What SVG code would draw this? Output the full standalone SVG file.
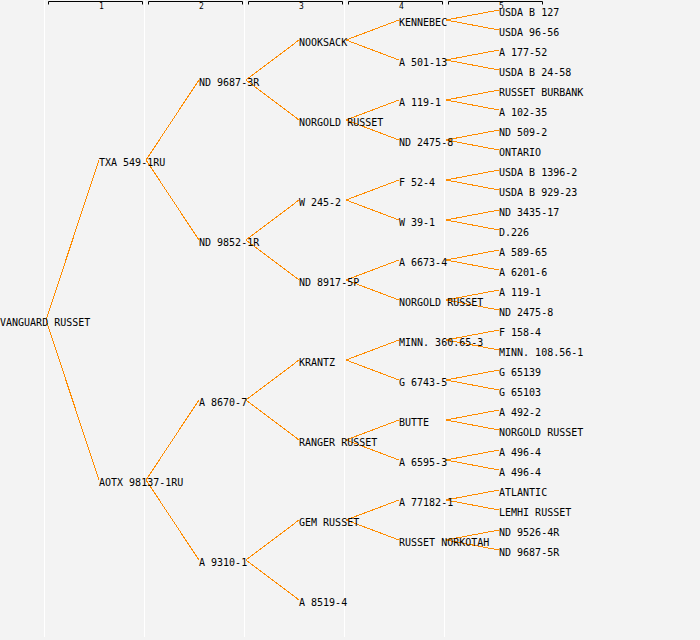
<svg xmlns="http://www.w3.org/2000/svg" width="700" height="640" viewBox="0 0 700 640">
<style>
.bg{fill:#f3f3f3}
.sep{stroke:#ffffff;stroke-width:1}
.br{fill:none;stroke:#000000;stroke-width:1}
.hd{font-family:"DejaVu Sans Mono","Liberation Mono",monospace;font-size:8px;fill:#000;text-anchor:middle}
.lb{font-family:"DejaVu Sans Mono","Liberation Mono",monospace;font-size:10px;fill:#000}
.e{stroke:#ff8c00;stroke-width:1;fill:none;shape-rendering:crispEdges}
</style>
<rect class="bg" x="0" y="0" width="700" height="640"/>
<g id="columns">
<line class="sep" x1="44.5" y1="0" x2="44.5" y2="637"/>
<line class="sep" x1="144.5" y1="0" x2="144.5" y2="637"/>
<line class="sep" x1="244.5" y1="0" x2="244.5" y2="637"/>
<line class="sep" x1="344.5" y1="0" x2="344.5" y2="637"/>
<line class="sep" x1="444.5" y1="0" x2="444.5" y2="637"/>
</g>
<g id="header">
<path class="br" d="M48.5,4.5V1.5H142.5V4.5"/>
<path class="br" d="M148.5,4.5V1.5H242.5V4.5"/>
<path class="br" d="M248.5,4.5V1.5H342.5V4.5"/>
<path class="br" d="M348.5,4.5V1.5H442.5V4.5"/>
<path class="br" d="M448.5,4.5V1.5H542.5V4.5"/>
<text class="hd" x="101.5" y="9">1</text>
<text class="hd" x="201.5" y="9">2</text>
<text class="hd" x="301.5" y="9">3</text>
<text class="hd" x="401.5" y="9">4</text>
<text class="hd" x="501.5" y="9">5</text>
</g>
<g id="connectors">
<path class="e" d="M46,320L99,160M46,320L99,480"/>
<path class="e" d="M146,160L199,80M146,160L199,240M146,480L199,400M146,480L199,560"/>
<path class="e" d="M246,80L299,40M246,80L299,120M246,240L299,200M246,240L299,280M246,400L299,360M246,400L299,440M246,560L299,520M246,560L299,600"/>
<path class="e" d="M346,40L399,20M346,40L399,60M346,120L399,100M346,120L399,140M346,200L399,180M346,200L399,220M346,280L399,260M346,280L399,300M346,360L399,340M346,360L399,380M346,440L399,420M346,440L399,460M346,520L399,500M346,520L399,540"/>
<path class="e" d="M446,20L499,10M446,20L499,30M446,60L499,50M446,60L499,70M446,100L499,90M446,100L499,110M446,140L499,130M446,140L499,150M446,180L499,170M446,180L499,190M446,220L499,210M446,220L499,230M446,260L499,250M446,260L499,270M446,300L499,290M446,300L499,310M446,340L499,330M446,340L499,350M446,380L499,370M446,380L499,390M446,420L499,410M446,420L499,430M446,460L499,450M446,460L499,470M446,500L499,490M446,500L499,510M446,540L499,530M446,540L499,550"/>
</g>
<g id="n0"><text class="lb" x="0" y="326">VANGUARD RUSSET</text></g>
<g id="n1"><text class="lb" x="99" y="166">TXA 549-1RU</text></g>
<g id="n2"><text class="lb" x="99" y="486">AOTX 98137-1RU</text></g>
<g id="n3"><text class="lb" x="199" y="86">ND 9687-3R</text></g>
<g id="n4"><text class="lb" x="199" y="246">ND 9852-1R</text></g>
<g id="n5"><text class="lb" x="199" y="406">A 8670-7</text></g>
<g id="n6"><text class="lb" x="199" y="566">A 9310-1</text></g>
<g id="n7"><text class="lb" x="299" y="46">NOOKSACK</text></g>
<g id="n8"><text class="lb" x="299" y="126">NORGOLD RUSSET</text></g>
<g id="n9"><text class="lb" x="299" y="206">W 245-2</text></g>
<g id="n10"><text class="lb" x="299" y="286">ND 8917-5P</text></g>
<g id="n11"><text class="lb" x="299" y="366">KRANTZ</text></g>
<g id="n12"><text class="lb" x="299" y="446">RANGER RUSSET</text></g>
<g id="n13"><text class="lb" x="299" y="526">GEM RUSSET</text></g>
<g id="n14"><text class="lb" x="299" y="606">A 8519-4</text></g>
<g id="n15"><text class="lb" x="399" y="26">KENNEBEC</text></g>
<g id="n16"><text class="lb" x="399" y="66">A 501-13</text></g>
<g id="n17"><text class="lb" x="399" y="106">A 119-1</text></g>
<g id="n18"><text class="lb" x="399" y="146">ND 2475-8</text></g>
<g id="n19"><text class="lb" x="399" y="186">F 52-4</text></g>
<g id="n20"><text class="lb" x="399" y="226">W 39-1</text></g>
<g id="n21"><text class="lb" x="399" y="266">A 6673-4</text></g>
<g id="n22"><text class="lb" x="399" y="306">NORGOLD RUSSET</text></g>
<g id="n23"><text class="lb" x="399" y="346">MINN. 360.65-3</text></g>
<g id="n24"><text class="lb" x="399" y="386">G 6743-5</text></g>
<g id="n25"><text class="lb" x="399" y="426">BUTTE</text></g>
<g id="n26"><text class="lb" x="399" y="466">A 6595-3</text></g>
<g id="n27"><text class="lb" x="399" y="506">A 77182-1</text></g>
<g id="n28"><text class="lb" x="399" y="546">RUSSET NORKOTAH</text></g>
<g id="n29"><text class="lb" x="499" y="16">USDA B 127</text></g>
<g id="n30"><text class="lb" x="499" y="36">USDA 96-56</text></g>
<g id="n31"><text class="lb" x="499" y="56">A 177-52</text></g>
<g id="n32"><text class="lb" x="499" y="76">USDA B 24-58</text></g>
<g id="n33"><text class="lb" x="499" y="96">RUSSET BURBANK</text></g>
<g id="n34"><text class="lb" x="499" y="116">A 102-35</text></g>
<g id="n35"><text class="lb" x="499" y="136">ND 509-2</text></g>
<g id="n36"><text class="lb" x="499" y="156">ONTARIO</text></g>
<g id="n37"><text class="lb" x="499" y="176">USDA B 1396-2</text></g>
<g id="n38"><text class="lb" x="499" y="196">USDA B 929-23</text></g>
<g id="n39"><text class="lb" x="499" y="216">ND 3435-17</text></g>
<g id="n40"><text class="lb" x="499" y="236">D.226</text></g>
<g id="n41"><text class="lb" x="499" y="256">A 589-65</text></g>
<g id="n42"><text class="lb" x="499" y="276">A 6201-6</text></g>
<g id="n43"><text class="lb" x="499" y="296">A 119-1</text></g>
<g id="n44"><text class="lb" x="499" y="316">ND 2475-8</text></g>
<g id="n45"><text class="lb" x="499" y="336">F 158-4</text></g>
<g id="n46"><text class="lb" x="499" y="356">MINN. 108.56-1</text></g>
<g id="n47"><text class="lb" x="499" y="376">G 65139</text></g>
<g id="n48"><text class="lb" x="499" y="396">G 65103</text></g>
<g id="n49"><text class="lb" x="499" y="416">A 492-2</text></g>
<g id="n50"><text class="lb" x="499" y="436">NORGOLD RUSSET</text></g>
<g id="n51"><text class="lb" x="499" y="456">A 496-4</text></g>
<g id="n52"><text class="lb" x="499" y="476">A 496-4</text></g>
<g id="n53"><text class="lb" x="499" y="496">ATLANTIC</text></g>
<g id="n54"><text class="lb" x="499" y="516">LEMHI RUSSET</text></g>
<g id="n55"><text class="lb" x="499" y="536">ND 9526-4R</text></g>
<g id="n56"><text class="lb" x="499" y="556">ND 9687-5R</text></g>
</svg>
